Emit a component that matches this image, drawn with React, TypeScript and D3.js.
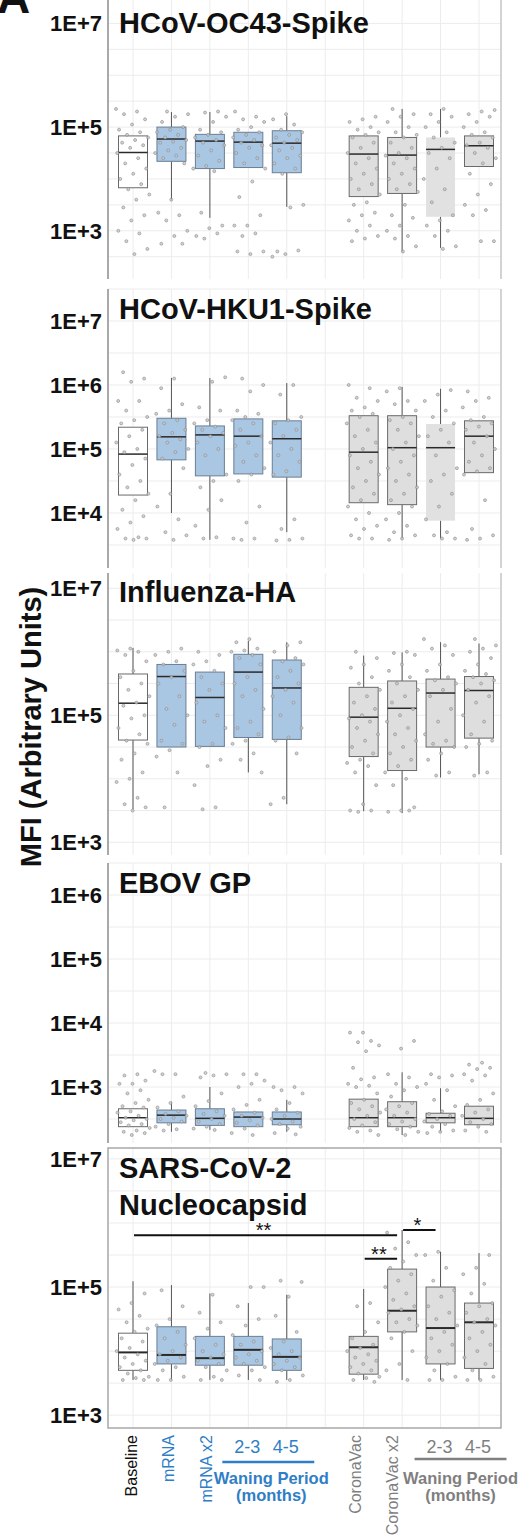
import React from "react";
import * as d3 from "d3";

// groups along the x axis (slot 6 stays empty)
const groupNames = ["Baseline", "mRNA", "mRNA x2", "2-3", "4-5", "CoronaVac", "CoronaVac x2", "2-3", "4-5"];
const groupSlots = [1, 2, 3, 4, 5, 7, 8, 9, 10];
const groupKinds = ["base", "mrna", "mrna", "mrna", "mrna", "cv", "cv", "cv", "cv"];

const panelTitles = [["HCoV-OC43-Spike"], ["HCoV-HKU1-Spike"], ["Influenza-HA"], ["EBOV GP"], ["SARS-CoV-2", "Nucleocapsid"]];
// visible range of each panel, as log10(MFI)
const panelDomains = [[2.07, 7.49], [3.14, 7.5], [2.8, 7.24], [2.125, 6.5], [2.8, 7.17]];
// labelled ticks (exponents)
const panelTicks = [[3, 5, 7], [4, 5, 6, 7], [3, 5, 7], [3, 4, 5, 6], [3, 5, 7]];
// group drawn as a plain faded box without outline (-1 = none)
const fadedGroup = [7, 7, -1, -1, -1];

// box stats per group, log10 MFI: [lower whisker, q1, median, q3, upper whisker]
const oc43Boxes = [
  [3.83, 3.83, 4.51, 4.83, 4.83], [3.6, 4.34, 4.77, 5.0, 5.29], [3.25, 4.2, 4.73, 4.86, 5.29],
  [4.22, 4.22, 4.71, 4.9, 4.9], [3.46, 4.12, 4.69, 4.93, 5.21], [3.66, 3.66, 4.48, 4.83, 4.83],
  [2.6, 3.72, 4.46, 4.8, 5.35], [2.67, 3.27, 4.57, 4.8, 5.35], [4.24, 4.24, 4.64, 4.83, 4.83],
];
const hku1Boxes = [
  [4.28, 4.28, 4.92, 5.34, 5.34], [4.0, 4.83, 5.19, 5.48, 6.11], [3.58, 4.58, 5.22, 5.36, 6.11],
  [4.61, 4.61, 5.2, 5.47, 5.47], [3.7, 4.56, 5.16, 5.44, 6.03], [4.16, 4.16, 4.95, 5.52, 5.52],
  [3.6, 4.13, 5.02, 5.52, 5.97], [3.6, 3.88, 5.02, 5.39, 5.94], [4.63, 4.63, 5.2, 5.44, 5.44],
];
const fluBoxes = [
  [3.52, 4.61, 5.19, 5.65, 6.06], [4.5, 4.5, 5.61, 5.8, 5.8], [4.51, 4.51, 5.28, 5.68, 5.68],
  [4.1, 4.65, 5.68, 5.96, 6.17], [3.6, 4.62, 5.43, 5.87, 6.15], [3.49, 4.35, 4.97, 5.44, 5.94],
  [3.46, 4.13, 5.11, 5.54, 5.99], [4.02, 4.5, 5.35, 5.57, 6.15], [4.07, 4.64, 5.39, 5.61, 6.13],
];
const ebovBoxes = [
  [2.38, 2.38, 2.52, 2.66, 2.66], [2.3, 2.44, 2.56, 2.64, 2.77], [2.33, 2.4, 2.51, 2.66, 3.0],
  [2.38, 2.38, 2.53, 2.61, 2.61], [2.3, 2.41, 2.5, 2.61, 2.8], [2.38, 2.38, 2.52, 2.81, 2.81],
  [2.25, 2.38, 2.52, 2.77, 3.23], [2.3, 2.44, 2.52, 2.59, 2.98], [2.41, 2.41, 2.51, 2.7, 2.7],
];
const ncapBoxes = [
  [3.55, 3.7, 3.98, 4.28, 5.09], [3.55, 3.8, 3.94, 4.38, 5.03], [3.55, 3.78, 3.89, 4.23, 4.9],
  [3.55, 3.78, 4.02, 4.23, 4.75], [3.55, 3.7, 3.91, 4.19, 4.88], [3.55, 3.64, 4.06, 4.23, 4.97],
  [3.55, 4.3, 4.63, 5.28, 5.89], [3.55, 3.8, 4.36, 5.0, 5.55], [3.55, 3.73, 4.45, 4.75, 5.53],
];
const panelBoxes = [oc43Boxes, hku1Boxes, fluBoxes, ebovBoxes, ncapBoxes];

// individual samples per group, log10 MFI
const oc43Points = [
  [5.35, 5.3, 5.25, 5.15, 5.05, 4.95, 4.9, 4.85, 4.8, 4.75, 4.7, 4.65, 4.6, 4.5, 4.4, 4.3, 4.2, 4.1, 4.0, 3.9, 3.8, 3.7, 3.6, 3.45, 3.3, 3.2, 3.0, 2.95, 2.8, 2.65, 2.55],
  [5.3, 5.25, 5.2, 5.1, 5.0, 4.95, 4.9, 4.85, 4.8, 4.75, 4.72, 4.7, 4.6, 4.55, 4.5, 4.45, 4.4, 4.3, 3.6, 3.35, 3.3, 3.2, 3.0, 2.9, 2.75, 2.75],
  [5.3, 5.28, 5.2, 5.1, 4.95, 4.9, 4.85, 4.8, 4.75, 4.7, 4.65, 4.55, 4.45, 4.35, 4.25, 4.2, 4.15, 3.35, 3.1, 3.05, 2.9, 2.95, 2.85],
  [5.3, 5.2, 5.15, 5.1, 5.0, 4.95, 4.9, 4.85, 4.8, 4.75, 4.7, 4.65, 4.6, 4.5, 4.4, 4.3, 4.2, 3.95, 3.65, 3.3, 3.1, 3.1, 2.95, 2.9, 2.6, 2.55, 2.6],
  [5.25, 5.15, 5.05, 4.95, 4.9, 4.85, 4.8, 4.75, 4.7, 4.65, 4.6, 4.55, 4.45, 4.4, 4.3, 4.2, 4.1, 3.5, 3.45, 2.6, 2.62, 2.55, 2.5],
  [5.2, 5.15, 5.1, 5.0, 4.95, 4.9, 4.85, 4.8, 4.7, 4.6, 4.5, 4.4, 4.3, 4.2, 4.1, 4.0, 3.9, 3.8, 3.7, 3.55, 3.5, 3.35, 3.3, 3.2, 3.1, 3.0, 2.9, 2.85, 2.8],
  [5.35, 5.25, 5.2, 5.1, 5.0, 4.9, 4.85, 4.8, 4.7, 4.6, 4.5, 4.45, 4.4, 4.3, 4.2, 4.1, 4.0, 3.9, 3.8, 3.75, 3.5, 3.3, 3.25, 3.1, 3.0, 2.9, 2.85, 2.7, 2.6],
  [5.35, 5.25, 5.2, 5.1, 5.0, 4.9, 4.8, 4.7, 4.6, 4.5, 4.4, 4.2, 4.0, 3.8, 3.55, 3.3, 3.2, 3.1, 3.0, 2.9, 2.7, 2.65],
  [5.33, 5.3, 5.25, 5.2, 5.1, 5.0, 4.9, 4.85, 4.8, 4.7, 4.65, 4.6, 4.5, 4.4, 4.3, 4.1, 3.9, 3.7, 3.5, 3.4, 3.3, 2.8, 2.8],
];
const hku1Points = [
  [6.2, 6.1, 6.05, 5.75, 5.75, 5.6, 5.5, 5.45, 5.4, 5.3, 5.2, 5.1, 5.0, 4.95, 4.85, 4.75, 4.6, 4.5, 4.4, 4.3, 4.2, 4.05, 3.95, 3.85, 3.75, 3.62, 3.6, 3.6, 3.58],
  [6.1, 5.95, 5.7, 5.6, 5.55, 5.45, 5.4, 5.3, 5.25, 5.2, 5.15, 5.1, 5.0, 4.95, 4.85, 4.7, 4.3, 4.1, 3.9, 3.7, 3.65, 3.58],
  [6.12, 6.05, 5.65, 5.6, 5.45, 5.4, 5.35, 5.3, 5.25, 5.2, 5.1, 5.0, 4.9, 4.6, 4.5, 4.4, 4.2, 4.05, 3.8, 3.62, 3.6],
  [6.1, 6.0, 5.9, 5.6, 5.55, 5.5, 5.45, 5.4, 5.3, 5.2, 5.1, 5.05, 4.9, 4.8, 4.7, 4.6, 4.5, 4.1, 3.85, 3.6, 3.6, 3.58],
  [6.0, 5.85, 5.5, 5.45, 5.4, 5.3, 5.2, 5.1, 5.0, 4.9, 4.8, 4.65, 4.6, 3.9, 3.75, 3.6, 3.58, 3.57],
  [6.0, 5.95, 5.8, 5.75, 5.65, 5.6, 5.55, 5.5, 5.4, 5.3, 5.2, 5.1, 5.0, 4.9, 4.8, 4.7, 4.6, 4.5, 4.4, 4.3, 4.2, 4.1, 4.0, 3.9, 3.8, 3.75, 3.65, 3.6, 3.6],
  [5.95, 5.9, 5.75, 5.7, 5.6, 5.5, 5.45, 5.4, 5.3, 5.2, 5.1, 5.0, 4.9, 4.8, 4.7, 4.6, 4.5, 4.4, 4.3, 4.2, 4.1, 4.0, 3.9, 3.8, 3.7, 3.65, 3.6, 3.58],
  [5.92, 5.85, 5.75, 5.6, 5.5, 5.4, 5.3, 5.2, 5.1, 4.9, 4.7, 4.6, 4.5, 4.3, 4.1, 3.9, 3.7, 3.65, 3.6, 3.6],
  [5.9, 5.8, 5.75, 5.65, 5.5, 5.45, 5.4, 5.35, 5.3, 5.2, 5.1, 5.0, 4.9, 4.8, 4.7, 4.65, 4.6, 4.2, 3.75, 3.65, 3.6, 3.58],
];
const fluPoints = [
  [6.05, 6.02, 6.0, 5.95, 5.85, 5.7, 5.6, 5.5, 5.4, 5.3, 5.2, 5.15, 5.0, 4.95, 4.8, 4.7, 4.6, 4.55, 4.4, 4.3, 4.1, 4.0, 3.95, 3.7, 3.6, 3.55, 3.5],
  [6.05, 6.0, 5.95, 5.85, 5.8, 5.7, 5.6, 5.5, 5.3, 5.1, 5.0, 4.85, 4.6, 4.55, 4.45, 4.35, 4.1, 3.55],
  [6.0, 5.95, 5.85, 5.8, 5.7, 5.6, 5.5, 5.4, 5.2, 5.0, 4.9, 4.8, 4.55, 4.5, 4.3, 4.2, 3.9, 3.55, 3.52],
  [6.2, 6.15, 6.05, 6.02, 6.0, 5.95, 5.9, 5.8, 5.6, 5.5, 5.4, 5.3, 5.1, 4.9, 4.8, 4.7, 4.6, 4.55, 4.4, 4.3, 4.1],
  [6.15, 6.1, 6.0, 5.9, 5.85, 5.8, 5.7, 5.6, 5.5, 5.4, 5.3, 5.2, 5.0, 4.8, 4.65, 4.6, 4.4, 3.7, 3.6],
  [6.0, 5.9, 5.8, 5.75, 5.6, 5.5, 5.4, 5.3, 5.2, 5.1, 5.0, 4.95, 4.9, 4.8, 4.7, 4.6, 4.5, 4.4, 4.3, 4.25, 4.2, 4.1, 3.9, 3.6, 3.5, 3.5, 3.48],
  [6.0, 5.98, 5.95, 5.8, 5.7, 5.6, 5.5, 5.4, 5.3, 5.2, 5.1, 5.0, 4.9, 4.8, 4.7, 4.6, 4.5, 4.4, 4.3, 4.2, 4.1, 4.0, 3.9, 3.55, 3.5, 3.48, 3.5],
  [6.2, 6.1, 6.05, 5.95, 5.8, 5.7, 5.6, 5.55, 5.5, 5.4, 5.3, 5.1, 4.9, 4.7, 4.6, 4.55, 4.5, 4.4, 4.3, 4.1, 4.05],
  [6.2, 6.1, 6.05, 6.0, 5.9, 5.8, 5.7, 5.65, 5.6, 5.55, 5.5, 5.4, 5.3, 5.2, 5.0, 4.9, 4.7, 4.6, 4.55, 4.5, 4.1, 4.05],
];
const ebovPoints = [
  [3.2, 3.18, 3.1, 3.05, 3.05, 2.95, 2.9, 2.8, 2.75, 2.7, 2.68, 2.62, 2.6, 2.55, 2.52, 2.5, 2.48, 2.45, 2.42, 2.4, 2.36, 2.32, 2.3, 2.28, 2.25],
  [3.25, 3.2, 3.2, 2.85, 2.75, 2.68, 2.62, 2.58, 2.55, 2.52, 2.5, 2.46, 2.42, 2.38, 2.34, 2.32],
  [3.22, 3.2, 3.18, 3.15, 2.9, 2.78, 2.7, 2.62, 2.58, 2.55, 2.5, 2.46, 2.42, 2.38, 2.35, 2.33],
  [3.2, 3.2, 3.1, 3.05, 3.0, 2.8, 2.72, 2.65, 2.6, 2.55, 2.52, 2.48, 2.44, 2.4, 2.35, 2.28, 2.25],
  [3.0, 3.0, 2.95, 2.9, 2.75, 2.65, 2.6, 2.55, 2.5, 2.46, 2.42, 2.38, 2.35, 2.28, 2.26],
  [3.85, 3.85, 3.72, 3.7, 3.65, 3.56, 3.3, 3.15, 3.12, 3.05, 3.02, 3.0, 2.9, 2.8, 2.75, 2.7, 2.65, 2.6, 2.55, 2.5, 2.45, 2.4, 2.36, 2.32, 2.3, 2.25],
  [3.72, 3.6, 3.2, 3.15, 3.05, 3.0, 2.95, 2.85, 2.75, 2.7, 2.65, 2.6, 2.55, 2.5, 2.46, 2.42, 2.38, 2.34, 2.3, 2.25],
  [3.2, 3.18, 3.15, 3.05, 2.95, 2.8, 2.7, 2.62, 2.58, 2.55, 2.5, 2.46, 2.42, 2.38, 2.32, 2.3, 2.28],
  [3.38, 3.35, 3.3, 3.28, 3.2, 3.18, 3.1, 2.9, 2.8, 2.72, 2.65, 2.6, 2.55, 2.5, 2.45, 2.42, 2.38, 2.32, 2.3],
];
const ncapPoints = [
  [4.9, 4.75, 4.65, 4.55, 4.45, 4.35, 4.3, 4.2, 4.15, 4.05, 4.0, 3.95, 3.9, 3.85, 3.8, 3.75, 3.7, 3.65, 3.6, 3.58, 3.55, 3.55],
  [4.95, 4.7, 4.5, 4.4, 4.3, 4.2, 4.1, 4.0, 3.95, 3.9, 3.85, 3.8, 3.75, 3.7, 3.6, 3.55, 3.55],
  [4.88, 4.6, 4.45, 4.35, 4.2, 4.1, 4.0, 3.95, 3.9, 3.85, 3.8, 3.75, 3.7, 3.6, 3.55, 3.55],
  [5.0, 5.0, 4.7, 4.5, 4.4, 4.25, 4.15, 4.1, 4.0, 3.95, 3.9, 3.85, 3.8, 3.75, 3.7, 3.62, 3.55],
  [5.1, 5.08, 4.85, 4.55, 4.3, 4.15, 4.05, 4.0, 3.95, 3.9, 3.85, 3.8, 3.75, 3.7, 3.62, 3.55, 3.52],
  [4.75, 4.7, 4.45, 4.3, 4.2, 4.1, 4.05, 4.0, 3.95, 3.9, 3.85, 3.8, 3.75, 3.7, 3.65, 3.6, 3.58, 3.55, 3.52],
  [5.85, 5.7, 5.6, 5.5, 5.4, 5.3, 5.2, 5.1, 5.0, 4.9, 4.8, 4.7, 4.65, 4.6, 4.5, 4.45, 4.4, 4.3, 4.2, 4.0, 3.8, 3.7, 3.55],
  [5.55, 5.5, 5.3, 5.1, 4.95, 4.85, 4.7, 4.6, 4.5, 4.4, 4.3, 4.2, 4.1, 4.0, 3.9, 3.8, 3.7, 3.6, 3.55, 3.55],
  [5.5, 5.3, 5.2, 5.05, 4.9, 4.75, 4.7, 4.6, 4.5, 4.45, 4.4, 4.3, 4.2, 4.1, 4.0, 3.9, 3.8, 3.7, 3.6, 3.55, 3.55],
];
const panelPoints = [oc43Points, hku1Points, fluPoints, ebovPoints, ncapPoints];

// significance brackets in the nucleocapsid panel (group index, group index, log10 height, label)
const sigFrom = [0, 5, 6];
const sigTo = [6, 6, 7];
const sigLevel = [5.81, 5.44, 5.89];
const sigLabels = ["**", "**", "*"];

const W = 519;
const H = 1537;
const FONT = "'Liberation Sans', Arial, Helvetica, sans-serif";
const BLUE = "#2f7ec6";
const GREY_TXT = "#7f7f7f";
const panelTop = [-2, 289, 573, 863, 1148];
const panelBottom = [279, 568, 855, 1143, 1428];
const left = 108;
const right = 501;

const x = d3.scaleLinear().domain([1, 10]).range([133, 479]);
// rotated tick labels sit a little tighter than the ticks themselves
const xLabel = d3.scaleLinear().domain([1, 8]).range([137, 398]);

function Panel({ p }: { p: number }) {
  const [lo, hi] = panelDomains[p];
  const y = d3.scaleLog().domain([10 ** lo, 10 ** hi]).range([panelBottom[p], panelTop[p]]);
  const grid: number[] = [];
  for (let e = Math.ceil(lo * 2) / 2; e <= hi; e += 0.5) grid.push(e);
  const top = panelTop[p];
  const bot = panelBottom[p];
  const boxes = panelBoxes[p];
  const pts = panelPoints[p];
  const bw = 29;
  return (
    <g>
      {grid.map((e) => (
        <line key={"h" + e} x1={left} x2={right} y1={y(10 ** e)} y2={y(10 ** e)} stroke="#ececec" strokeWidth={1} />
      ))}
      {d3.range(1, 11).map((s) => (
        <line key={"v" + s} x1={x(s)} x2={x(s)} y1={top} y2={bot} stroke="#ececec" strokeWidth={1} />
      ))}
      {p === 4 ? (
        <rect x={left} y={top} width={right - left} height={bot - top} fill="none" stroke="#a8a8a8" strokeWidth={1.5} />
      ) : (
        <g>
          <line x1={left} x2={left} y1={top} y2={bot} stroke="#8c8c8c" strokeWidth={1.5} />
          <line x1={right} x2={right} y1={top} y2={bot} stroke="#c4c4c4" strokeWidth={1.5} />
        </g>
      )}
      {boxes.map((b, g) => {
        const cx = x(groupSlots[g]);
        const kind = groupKinds[g];
        const faded = fadedGroup[p] === g;
        const fill = kind === "base" ? "#ffffff" : kind === "mrna" ? "#a9c6e3" : faded ? "#e1e1e1" : "#dedede";
        const stroke = faded ? "none" : kind === "mrna" ? "#6b7f94" : "#6a6a6a";
        const [wl, q1, md, q3, wh] = b.map((v) => y(10 ** v));
        return (
          <g key={"b" + g}>
            <line x1={cx} x2={cx} y1={wh} y2={q3} stroke="#555" strokeWidth={1} />
            <line x1={cx} x2={cx} y1={q1} y2={wl} stroke="#555" strokeWidth={1} />
            <rect x={cx - bw / 2} y={q3} width={bw} height={q1 - q3} fill={fill} stroke={stroke} strokeWidth={1} />
            <line x1={cx - bw / 2} x2={cx + bw / 2} y1={md} y2={md} stroke="#2a2a2a" strokeWidth={p === 4 ? 2 : 1.5} />
          </g>
        );
      })}
      {pts.map((arr, g) =>
        arr.map((v, i) => {
          const off = (((i * 0.618034 + g * 0.37 + p * 0.21) % 1) - 0.5) * 34;
          return (
            <circle key={"p" + g + "_" + i} cx={x(groupSlots[g]) + off} cy={y(10 ** v)} r={1.5}
              fill="#c8c8c8" fillOpacity={0.8} stroke="#8a8a8a" strokeWidth={0.6} />
          );
        })
      )}
      {panelTicks[p].map((e) => (
        <text key={"t" + e} x={102} y={y(10 ** e) + 8} textAnchor="end" fontFamily={FONT} fontWeight="bold" fontSize={22} fill="#111">
          {"1E+" + e}
        </text>
      ))}
      {panelTitles[p].map((t, i) => (
        <text key={"ti" + i} x={119} y={top + (p === 0 ? 35 : p === 2 ? 29 : 30) + i * 37} fontFamily={FONT} fontWeight="bold" fontSize={29} fill="#111">
          {t}
        </text>
      ))}
      {p === 4 &&
        sigFrom.map((a, k) => {
          const x1 = x(groupSlots[a]) + 1;
          const x2 = x(groupSlots[sigTo[k]]) - 5;
          const yy = y(10 ** sigLevel[k]);
          return (
            <g key={"s" + k}>
              <line x1={x1} x2={x2} y1={yy} y2={yy} stroke="#111" strokeWidth={2} />
              <text x={(x1 + x2) / 2 - 2} y={yy + 2} textAnchor="middle" fontFamily={FONT} fontSize={20} fill="#111">
                {sigLabels[k]}
              </text>
            </g>
          );
        })}
    </g>
  );
}

export default function App() {
  const single = [0, 1, 2, 5, 6];
  return (
    <svg width={W} height={H} style={{ position: "absolute", left: 0, top: 0, background: "#fff" }}>
      <rect width={W} height={H} fill="#fff" />
      {d3.range(5).map((p) => (
        <Panel key={p} p={p} />
      ))}
      <text x={-3} y={13} fontFamily={FONT} fontWeight="bold" fontSize={46} fill="#111">A</text>
      <text transform="translate(41,727) rotate(-90)" textAnchor="middle" fontFamily={FONT} fontWeight="bold" fontSize={29} fill="#111">
        MFI (Arbitrary Units)
      </text>
      {single.map((g) => (
        <text key={"xl" + g} transform={`translate(${xLabel(groupSlots[g])},1435) rotate(-90)`} textAnchor="end"
          fontFamily={FONT} fontSize={16} fill={groupKinds[g] === "base" ? "#111" : groupKinds[g] === "mrna" ? BLUE : GREY_TXT}>
          {groupNames[g]}
        </text>
      ))}
      {[[3, 4], [7, 8]].map(([a, b], k) => {
        const col = k === 0 ? BLUE : GREY_TXT;
        const x1 = x(groupSlots[a]) - 26;
        const x2 = x(groupSlots[b]) + 27.5;
        const cx = (x1 + x2) / 2 + (k === 0 ? 3 : 0);
        return (
          <g key={"w" + k} fill={col} fontFamily={FONT}>
            <text x={x(groupSlots[a]) - 1} y={1453} textAnchor="middle" fontSize={18}>{groupNames[a]}</text>
            <text x={x(groupSlots[b]) - 1} y={1453} textAnchor="middle" fontSize={18}>{groupNames[b]}</text>
            <line x1={x1} x2={x2} y1={k === 0 ? 1462 : 1459} y2={k === 0 ? 1462 : 1459} stroke={col} strokeWidth={2.5} />
            <text x={cx} y={1484} textAnchor="middle" fontSize={16.5} fontWeight="bold">Waning Period</text>
            <text x={cx} y={1501} textAnchor="middle" fontSize={16.5} fontWeight="bold">(months)</text>
          </g>
        );
      })}
    </svg>
  );
}
